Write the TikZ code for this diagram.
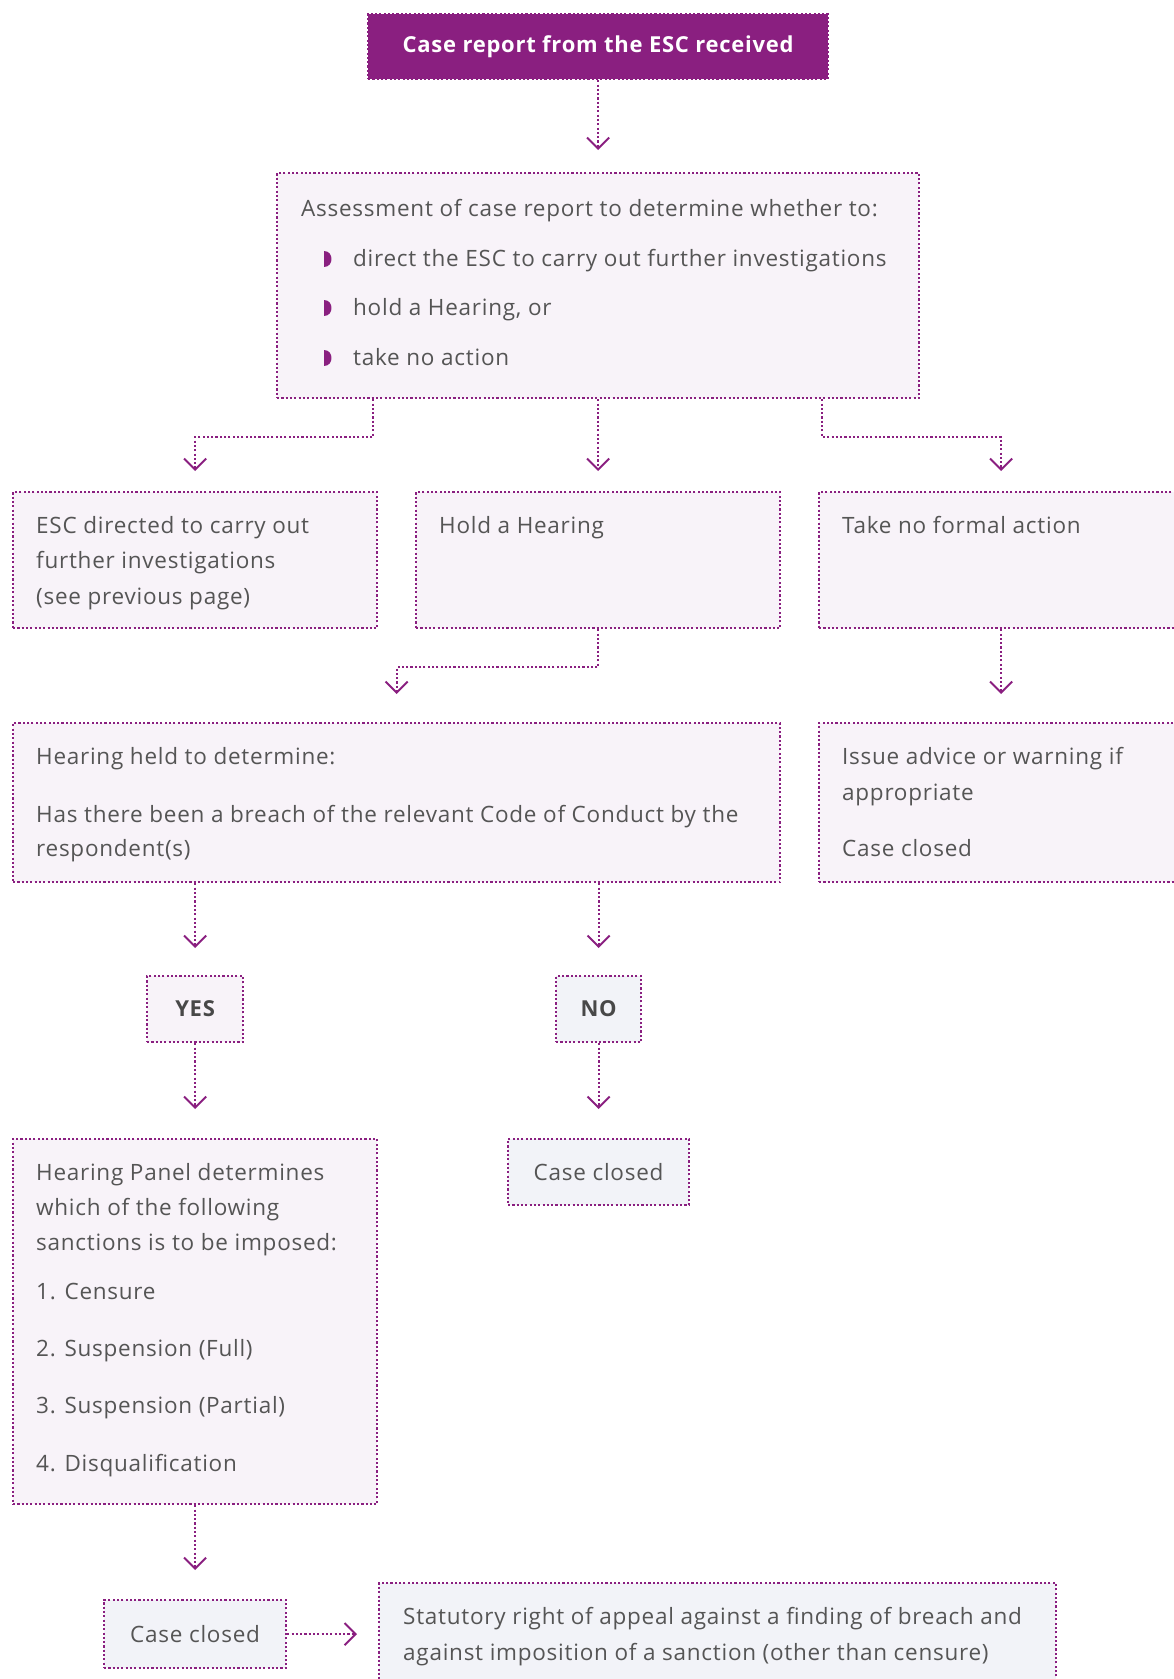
\documentclass[tikz,border=0pt]{standalone}
\usepackage{fontspec}
\setmainfont{Open Sans}[LetterSpace=3.3]
\usetikzlibrary{arrows.meta}
\definecolor{pur}{HTML}{8A1F80}
\definecolor{pinkbg}{HTML}{F8F3F9}
\definecolor{bluebg}{HTML}{F2F3F8}
\definecolor{txtc}{HTML}{555555}
\begin{document}
\begin{tikzpicture}[x=1pt,y=-1pt,
  box/.style={draw=pur, line width=2.2pt, dash pattern=on 2.1pt off 2.2pt, fill=pinkbg, inner sep=0pt, anchor=north west},
  bbox/.style={box, fill=bluebg},
  conn/.style={draw=pur, line width=2.2pt, dash pattern=on 2.1pt off 2.2pt, -{Straight Barb[length=11pt,width=22pt,line width=2pt]}},
  txt/.style={font=\fontsize{22.5}{35}\selectfont, text=txtc, inner sep=0pt, anchor=base west},
  ctxt/.style={font=\fontsize{22.5}{35}\selectfont, text=txtc, inner sep=0pt},
  btxt/.style={font=\fontsize{22}{35}\selectfont\bfseries, text=txtc!85!black, inner sep=0pt},
]
\useasboundingbox (0,0) rectangle (1174,1679);
% boxes
\node[box, fill=pur, minimum width=460pt, minimum height=65pt] (top) at (367,13) {};
\node[box, minimum width=642pt, minimum height=225pt] (assess) at (276,172) {};
\node[box, minimum width=364pt, minimum height=136pt] (esc) at (12,491) {};
\node[box, minimum width=364pt, minimum height=136pt] (hold) at (415,491) {};
\node[box, minimum width=364pt, minimum height=136pt] (nofa) at (818,491) {};
\node[box, minimum width=767pt, minimum height=159pt] (hearing) at (12,722) {};
\node[box, minimum width=364pt, minimum height=159pt] (issue) at (818,722) {};
\node[box, minimum width=96pt, minimum height=66pt] (yes) at (146,975) {};
\node[bbox, minimum width=85pt, minimum height=66pt] (no) at (555,975) {};
\node[box, minimum width=364pt, minimum height=365pt] (sanc) at (12,1138) {};
\node[bbox, minimum width=181pt, minimum height=66pt] (closedA) at (507,1138) {};
\node[bbox, minimum width=182pt, minimum height=68pt] (closedB) at (103,1599) {};
\node[bbox, minimum width=677pt, minimum height=130pt] (appeal) at (378,1582) {};

% connectors
\draw[conn, shorten >=22pt] (top.south) -- (assess.north);
\draw[conn, shorten >=20pt] ([xshift=97pt]assess.south west) -- ++(0,38) -| (esc.north);
\draw[conn, shorten >=20pt] (assess.south) -- (hold.north);
\draw[conn, shorten >=20pt] ([xshift=-98pt]assess.south east) -- ++(0,38) -| (nofa.north);
\draw[conn, shorten >=28pt] (hold.south) -- ++(0,38) -| (hearing.north);
\draw[conn, shorten >=28pt] (nofa.south) -- (issue.north);
\draw[conn, shorten >=27pt] (yes.north |- hearing.south) -- (yes.north);
\draw[conn, shorten >=27pt] (no.north |- hearing.south) -- (no.north);
\draw[conn, shorten >=29pt] (yes.south) -- (yes.south |- sanc.north);
\draw[conn, shorten >=29pt] (no.south) -- (closedA.north);
\draw[conn, shorten >=29pt] (closedB.north |- sanc.south) -- (closedB.north);
\draw[conn, shorten >=21pt] (closedB.east) -- (closedB.east -| appeal.west);

% texts
\node[font=\fontsize{22}{35}\selectfont\bfseries, text=white, inner sep=0pt] (topt) at (top.center) {Case report from the ESC received};

\node[txt] (a1) at (301,216) {Assessment of case report to determine whether to:};
\node[txt] (a2) at (353,266) {direct the ESC to carry out further investigations};
\node[txt] (a3) at (353,315) {hold a Hearing, or};
\node[txt] (a4) at (353,365) {take no action};
\foreach \b in {266,315,365}{
  \fill[pur] (324,\b-15) .. controls (334,\b-15) and (334,\b+1) .. (324,\b+1) -- cycle;
}

\node[txt] (e1) at (36,533) {ESC directed to carry out};
\node[txt] (e2) at (36,568) {further investigations};
\node[txt] (e3) at (36,604) {(see previous page)};
\node[txt] (h1) at (439,533) {Hold a Hearing};
\node[txt] (n1) at (842,533) {Take no formal action};

\node[txt] (g1) at (36,764) {Hearing held to determine:};
\node[txt] (g2) at (36,822) {Has there been a breach of the relevant Code of Conduct by the};
\node[txt] (g3) at (36,856) {respondent(s)};
\node[txt] (i1) at (842,764) {Issue advice or warning if};
\node[txt] (i2) at (842,800) {appropriate};
\node[txt] (i3) at (842,856) {Case closed};

\node[btxt] (yest) at (yes.center) {YES};
\node[btxt] (not) at (no.center) {NO};

\node[txt] (s1) at (36,1180) {Hearing Panel determines};
\node[txt] (s2) at (36,1215) {which of the following};
\node[txt] (s3) at (36,1250) {sanctions is to be imposed:};
\node[txt] (s4) at (36,1299) {1. Censure};
\node[txt] (s5) at (36,1356) {2. Suspension (Full)};
\node[txt] (s6) at (36,1413) {3. Suspension (Partial)};
\node[txt] (s7) at (36,1471) {4. Disqualification};

\node[ctxt] (ca) at (closedA.center) {Case closed};
\node[ctxt] (cb) at (closedB.center) {Case closed};

\node[txt] (p1) at (403,1624) {Statutory right of appeal against a finding of breach and};
\node[txt] (p2) at (403,1660) {against imposition of a sanction (other than censure)};
\end{tikzpicture}
\end{document}
